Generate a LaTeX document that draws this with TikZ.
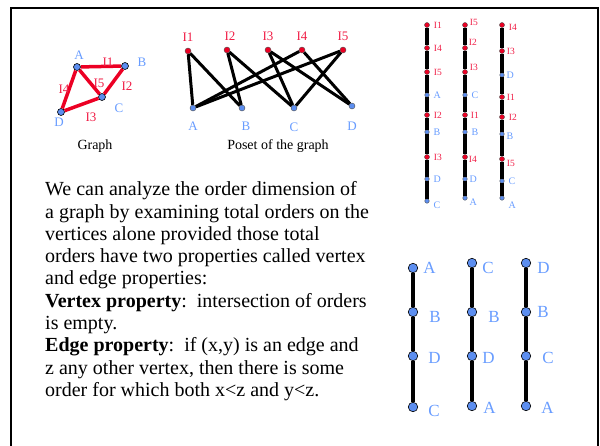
\documentclass[tikz,border=0pt]{standalone}
\usepackage{fontspec}
\setmainfont{Liberation Serif}
\usetikzlibrary{positioning}
\definecolor{ordred}{RGB}{236,0,36}
\definecolor{labelred}{RGB}{240,30,70}
\definecolor{dotblue}{RGB}{92,142,240}
\definecolor{labelblue}{RGB}{104,156,255}
\tikzset{
  slide frame/.style={draw=black, line width=2pt},
  graph vertex/.style={
    circle, fill=dotblue, draw=black, line width=0.6pt,
    inner sep=0pt, minimum size=7pt
  },
  graph edge/.style={draw=ordred, line width=3.5pt, line join=round},
  red dot/.style={
    circle, fill=ordred, draw=black!70, line width=0.4pt,
    inner sep=0pt, minimum size=6pt
  },
  blue dot/.style={
    circle, fill=dotblue, draw=black!70, line width=0.4pt,
    inner sep=0pt, minimum size=6pt
  },
  small red dot/.style={red dot, minimum size=5pt},
  small blue dot/.style={blue dot, minimum size=4.5pt},
  big blue dot/.style={blue dot, draw=black, line width=0.6pt, minimum size=9.5pt},
  poset edge/.style={draw=black, line width=3pt},
  order line/.style={draw=black, line width=4pt},
  vertex label/.style={text=labelblue, inner sep=0pt, font=\fontsize{13}{13}\selectfont},
  edge label/.style={text=labelred, inner sep=0pt, font=\fontsize{13}{13}\selectfont},
  small red label/.style={text=labelred, inner sep=0pt, font=\fontsize{9.5}{10}\selectfont},
  small blue label/.style={text=labelblue, inner sep=0pt, font=\fontsize{10}{10}\selectfont},
  big blue label/.style={text=labelblue, inner sep=0pt, font=\fontsize{17}{17}\selectfont},
  caption/.style={inner sep=0pt, font=\fontsize{14}{14}\selectfont},
  body text/.style={
    align=left, inner sep=0pt, anchor=north west,
    font=\fontsize{20}{22.3}\selectfont
  }
}

\begin{document}
\begin{tikzpicture}[x=1pt, y=-1pt]
    \useasboundingbox (0,0) rectangle (600,445);
    \draw[slide frame] (11,8) rectangle (598,470);

    % the graph
    \node[graph vertex] (ga) at (77,67) {};
    \node[graph vertex] (gb) at (125,66) {};
    \node[graph vertex] (gc) at (102,97) {};
    \node[graph vertex] (gd) at (61,112) {};
    \draw[graph edge] (ga) -- (gb);
    \draw[graph edge] (gb) -- (gc);
    \draw[graph edge] (gc) -- (gd);
    \draw[graph edge] (gd) -- (ga);
    \draw[graph edge] (ga) -- (gc);
    \node[vertex label] (lga) at (79,55) {A};
    \node[vertex label] (lgb) at (142,62) {B};
    \node[vertex label] (lgc) at (119,108) {C};
    \node[vertex label] (lgd) at (59,122) {D};
    \node[edge label] (lg1) at (108,62) {I1};
    \node[edge label] (lg2) at (127,86) {I2};
    \node[edge label] (lg3) at (91,117) {I3};
    \node[edge label] (lg4) at (64,89) {I4};
    \node[edge label] (lg5) at (99,83) {I5};
    \node[caption] (graphcap) at (95,146) {Graph};

    % the poset
    \node[red dot] (p1) at (188,51) {};
    \node[red dot] (p2) at (227,50) {};
    \node[red dot] (p3) at (268,50) {};
    \node[red dot] (p4) at (302,50) {};
    \node[red dot] (p5) at (343,50) {};
    \node[blue dot] (pa) at (193,108) {};
    \node[blue dot] (pb) at (242,108) {};
    \node[blue dot] (pc) at (294,108) {};
    \node[blue dot] (pd) at (352,106) {};
    \draw[poset edge] (p1) -- (pa);
    \draw[poset edge] (p1) -- (pb);
    \draw[poset edge] (p2) -- (pb);
    \draw[poset edge] (p2) -- (pc);
    \draw[poset edge] (p3) -- (pc);
    \draw[poset edge] (p3) -- (pd);
    \draw[poset edge] (p4) -- (pa);
    \draw[poset edge] (p4) -- (pd);
    \draw[poset edge] (p5) -- (pa);
    \draw[poset edge] (p5) -- (pc);
    \node[edge label, above=6pt of p1] (lp1) {I1};
    \node[edge label, above=6pt of p2, xshift=3pt] (lp2) {I2};
    \node[edge label, above=6pt of p3] (lp3) {I3};
    \node[edge label, above=6pt of p4] (lp4) {I4};
    \node[edge label, above=6pt of p5] (lp5) {I5};
    \node[vertex label, below=11pt of pa] (lpa) {A};
    \node[vertex label, below=11pt of pb, xshift=4pt] (lpb) {B};
    \node[vertex label, below=11pt of pc] (lpc) {C};
    \node[vertex label, below=13pt of pd] (lpd) {D};
    \node[caption] (posetcap) at (278,146) {Poset of the graph};

    % orders of the poset
    \node[small red dot] (u11) at (427,25) {};
    \node[small red dot] (u12) at (427,48) {};
    \node[small red dot] (u13) at (427,72) {};
    \node[small blue dot] (u14) at (427,95) {};
    \node[small red dot] (u15) at (427,115) {};
    \node[small blue dot] (u16) at (427,132) {};
    \node[small red dot] (u17) at (427,157) {};
    \node[small blue dot] (u18) at (427,179) {};
    \node[small blue dot] (u19) at (427,201) {};
    \draw[order line] (u11) -- (u12) -- (u13) -- (u14) -- (u15) -- (u16) -- (u17) -- (u18) -- (u19);
    \node[small red label, right=4pt of u11] (lu11) {I1};
    \node[small red label, right=4pt of u12] (lu12) {I4};
    \node[small red label, right=4pt of u13] (lu13) {I5};
    \node[small blue label, right=4pt of u14] (lu14) {A};
    \node[small red label, right=4pt of u15] (lu15) {I2};
    \node[small blue label, right=4pt of u16] (lu16) {B};
    \node[small red label, right=4pt of u17] (lu17) {I3};
    \node[small blue label, right=4pt of u18] (lu18) {D};
    \node[small blue label, right=4pt of u19, yshift=-4pt] (lu19) {C};

    \node[small red dot] (u21) at (465,25) {};
    \node[small red dot] (u22) at (465,48) {};
    \node[small red dot] (u23) at (465,72) {};
    \node[small blue dot] (u24) at (465,95) {};
    \node[small red dot] (u25) at (465,115) {};
    \node[small blue dot] (u26) at (465,132) {};
    \node[small red dot] (u27) at (465,157) {};
    \node[small blue dot] (u28) at (465,179) {};
    \node[small blue dot] (u29) at (465,198) {};
    \draw[order line] (u21) -- (u22) -- (u23) -- (u24) -- (u25) -- (u26) -- (u27) -- (u28) -- (u29);
    \node[small red label, right=2pt of u21, yshift=2.5pt] (lu21) {I5};
    \node[small red label, right=1pt of u22, yshift=6pt] (lu22) {I2};
    \node[small red label, right=2pt of u23, yshift=5pt] (lu23) {I3};
    \node[small blue label, right=4pt of u24] (lu24) {C};
    \node[small red label, right=3pt of u25] (lu25) {I1};
    \node[small blue label, right=4pt of u26] (lu26) {B};
    \node[small red label, right=1pt of u27, yshift=-2pt] (lu27) {I4};
    \node[small blue label, right=2pt of u28] (lu28) {D};
    \node[small blue label, right=2pt of u29, yshift=-4pt] (lu29) {A};

    \node[small red dot] (u31) at (502,25) {};
    \node[small red dot] (u32) at (502,51) {};
    \node[small blue dot] (u33) at (502,75) {};
    \node[small red dot] (u34) at (502,97) {};
    \node[small red dot] (u35) at (502,117) {};
    \node[small blue dot] (u36) at (502,134) {};
    \node[small red dot] (u37) at (502,159) {};
    \node[small blue dot] (u38) at (502,181) {};
    \node[small blue dot] (u39) at (502,198) {};
    \draw[order line] (u31) -- (u32) -- (u33) -- (u34) -- (u35) -- (u36) -- (u37) -- (u38) -- (u39);
    \node[small red label, right=4pt of u31, yshift=-2pt] (lu31) {I4};
    \node[small red label, right=2pt of u32] (lu32) {I3};
    \node[small blue label, right=2pt of u33] (lu33) {D};
    \node[small red label, right=2pt of u34] (lu34) {I1};
    \node[small red label, right=4pt of u35] (lu35) {I2};
    \node[small blue label, right=2pt of u36, yshift=-2.5pt] (lu36) {B};
    \node[small red label, right=2pt of u37, yshift=-4pt] (lu37) {I5};
    \node[small blue label, right=4pt of u38] (lu38) {C};
    \node[small blue label, right=4pt of u39, yshift=-7pt] (lu39) {A};

    % orders of the vertices
    \node[big blue dot] (v11) at (413,268) {};
    \node[big blue dot] (v12) at (413,312) {};
    \node[big blue dot] (v13) at (413,356) {};
    \node[big blue dot] (v14) at (413,407) {};
    \draw[order line] (v11) -- (v12) -- (v13) -- (v14);
    \node[big blue label, right=5pt of v11] (lv11) {A};
    \node[big blue label, right=11pt of v12, yshift=-4.5pt] (lv12) {B};
    \node[big blue label, right=10pt of v13, yshift=-2pt] (lv13) {D};
    \node[big blue label, right=10pt of v14, yshift=-3.5pt] (lv14) {C};

    \node[big blue dot] (v21) at (472,263) {};
    \node[big blue dot] (v22) at (472,312) {};
    \node[big blue dot] (v23) at (472,356) {};
    \node[big blue dot] (v24) at (472,406) {};
    \draw[order line] (v21) -- (v22) -- (v23) -- (v24);
    \node[big blue label, right=5pt of v21, yshift=-5pt] (lv21) {C};
    \node[big blue label, right=11pt of v22, yshift=-4.5pt] (lv22) {B};
    \node[big blue label, right=5pt of v23, yshift=-2pt] (lv23) {D};
    \node[big blue label, right=6pt of v24, yshift=-1.5pt] (lv24) {A};

    \node[big blue dot] (v31) at (526,263) {};
    \node[big blue dot] (v32) at (526,312) {};
    \node[big blue dot] (v33) at (526,356) {};
    \node[big blue dot] (v34) at (526,406) {};
    \draw[order line] (v31) -- (v32) -- (v33) -- (v34);
    \node[big blue label, right=6pt of v31, yshift=-4.5pt] (lv31) {D};
    \node[big blue label, right=6pt of v32] (lv32) {B};
    \node[big blue label, right=11pt of v33, yshift=-2pt] (lv33) {C};
    \node[big blue label, right=10pt of v34, yshift=-1.5pt] (lv34) {A};

    % explanation
    \node[body text] (explain) at (45,181.5) {We can analyze the order dimension of\\
      a graph by examining total orders on the\\
      vertices alone provided those total\\
      orders have two properties called vertex\\
      and edge properties:\\
      \textbf{Vertex property}:\enspace intersection of orders\\
      is empty.\\
      \textbf{Edge property}:\enspace if (x,y) is an edge and\\
      z any other vertex, then there is some\\
      order for which both x<z and y<z.};
\end{tikzpicture}
\end{document}
